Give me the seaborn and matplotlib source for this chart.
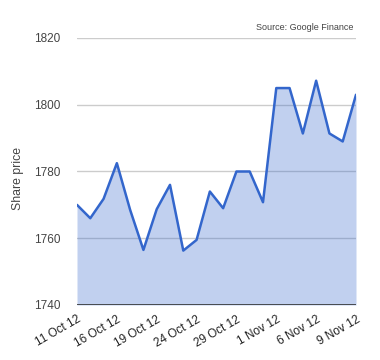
import matplotlib
matplotlib.use("Agg")
import matplotlib.pyplot as plt
import seaborn as sns
import pandas as pd
import numpy as np

dates = ["11 Oct 12", "12 Oct 12", "15 Oct 12", "16 Oct 12", "17 Oct 12", "18 Oct 12",
         "19 Oct 12", "22 Oct 12", "23 Oct 12", "24 Oct 12", "25 Oct 12", "26 Oct 12",
         "29 Oct 12", "30 Oct 12", "31 Oct 12", "1 Nov 12", "2 Nov 12", "5 Nov 12",
         "6 Nov 12", "7 Nov 12", "8 Nov 12", "9 Nov 12"]
prices = [1770.0, 1766.0, 1771.8, 1782.5, 1768.5, 1756.5, 1768.7, 1776.0, 1756.3, 1759.5,
          1774.0, 1769.0, 1780.0, 1780.0, 1770.8, 1805.0, 1805.0, 1791.4, 1807.2, 1791.4,
          1789.0, 1803.0]
tick_labels = ["11 Oct 12", "16 Oct 12", "19 Oct 12", "24 Oct 12", "29 Oct 12",
               "1 Nov 12", "6 Nov 12", "9 Nov 12"]
y_ticks = [1740, 1760, 1780, 1800, 1820]

sns.set_style("white")
plt.rcParams['font.family'] = ['Liberation Sans', 'DejaVu Sans']

df = pd.DataFrame({"idx": np.arange(len(dates)), "date": dates, "price": prices})

fig = plt.figure(figsize=(3.8, 3.6), dpi=100)
ax = fig.add_axes([77/380, 1-305/360, (356-77)/380, (305-38)/360])

for t in y_ticks[1:]:
    ax.axhline(t, color="#cccccc", lw=1, zorder=0)

ax.fill_between(df["idx"], df["price"], 1740, color="#3366cc", alpha=0.3, lw=0, zorder=1)
sns.lineplot(data=df, x="idx", y="price", color="#3366cc", lw=1.8, ax=ax, zorder=3)
ax.axhline(1740, color="#333333", lw=1.2, zorder=4)

ax.set_xlim(0, len(dates) - 1)
ax.set_ylim(1740, 1820)
ax.set_yticks(y_ticks)
ax.set_yticklabels([str(t) for t in y_ticks], fontsize=8.5, color="#444444")
pos = [dates.index(l) for l in tick_labels]
ax.set_xticks(pos)
ax.set_xticklabels(tick_labels, rotation=30, ha="right", rotation_mode="anchor",
                   fontsize=8.5, color="#222222")
ax.tick_params(axis="x", length=0, pad=6)
ax.tick_params(axis="y", length=0, pad=12)
ax.set_xlabel("")
ax.set_ylabel("Share price", fontsize=8.8, color="#444444")
ax.yaxis.set_label_coords((24 - 77) / 279, (305 - 179) / 267)
for s in ax.spines.values():
    s.set_visible(False)

fig.text(353/380, 1-27/360, "Source: Google Finance", ha="right", va="center",
         fontsize=6.5, color="#444444")

fig.savefig("out.png", dpi=100)
